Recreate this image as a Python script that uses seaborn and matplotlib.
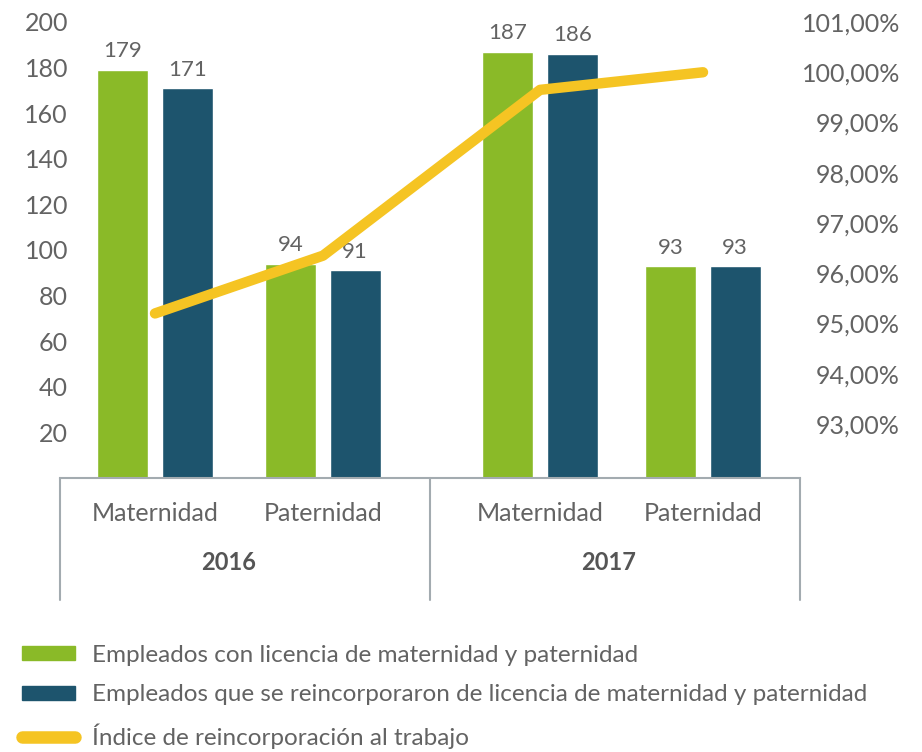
import matplotlib
matplotlib.use("Agg")
import matplotlib.pyplot as plt
import seaborn as sns
import pandas as pd
from matplotlib.lines import Line2D
from matplotlib.patches import Patch

# data
categorias = ["Maternidad", "Paternidad", "Maternidad", "Paternidad"]
anios = ["2016", "2017"]
posiciones = [0, 1, 2.292, 3.262]
con_licencia = [179, 94, 187, 93]
reincorporados = [171, 91, 186, 93]
indice = [95.2, 96.35, 99.65, 100.0]
ticks_izq = [20, 40, 60, 80, 100, 120, 140, 160, 180, 200]
ticks_der = [93, 94, 95, 96, 97, 98, 99, 100, 101]
series = ["Empleados con licencia de maternidad y paternidad",
          "Empleados que se reincorporaron de licencia de maternidad y paternidad",
          "Índice de reincorporación al trabajo"]

verde = "#8aba28"
azul = "#1d546d"
amarillo = "#f5c423"
texto = "#636363"
gris = "#a3abb0"

sns.set_theme(style="white")
plt.rcParams["font.family"] = ["Lato", "DejaVu Sans"]

df = pd.DataFrame({
    "pos": posiciones * 2,
    "valor": con_licencia + reincorporados,
    "serie": [series[0]] * 4 + [series[1]] * 4,
})

W, H = 922, 752
fig = plt.figure(figsize=(W / 100, H / 100), dpi=100)
ax = fig.add_axes([60 / W, 1 - 478 / H, 740 / W, 478 / H])

sns.barplot(data=df, x="pos", y="valor", hue="serie", hue_order=series[:2],
            palette=[verde, azul], native_scale=True, width=0.79, gap=0.21,
            saturation=1, legend=False, ax=ax)

for c in ax.containers:
    ax.bar_label(c, fmt="%d", padding=6, fontsize=16, color=texto)

ax.set_xlim((60 - 155) / 168, (800 - 155) / 168)
ax.set_ylim(0, 209.6)
ax.set_yticks(ticks_izq)
ax.set_yticklabels([str(t) for t in ticks_izq])
ax.tick_params(axis="y", length=0, pad=-5.8, labelsize=18, labelcolor=texto)
ax.set_xticks(posiciones)
ax.set_xticklabels(categorias)
ax.tick_params(axis="x", length=0, pad=17, labelsize=18, labelcolor=texto)
ax.set_xlabel("")
ax.set_ylabel("")
for s in ["left", "right", "top"]:
    ax.spines[s].set_visible(False)
ax.spines["bottom"].set_color(gris)
ax.spines["bottom"].set_linewidth(1.5)

# year labels under each group
trans = ax.get_xaxis_transform()
ax.text((posiciones[0] + posiciones[1]) / 2 - 0.06, -85 / 478, anios[0], transform=trans,
        ha="center", va="center", fontsize=17, fontweight="bold", color="#555555")
ax.text((posiciones[2] + posiciones[3]) / 2 - 0.08, -85 / 478, anios[1], transform=trans,
        ha="center", va="center", fontsize=17, fontweight="bold", color="#555555")

# group box lines
for xp in [60, 430, 800]:
    fig.add_artist(Line2D([xp / W, xp / W], [1 - 478 / H, 1 - 600 / H],
                          transform=fig.transFigure, color=gris, lw=1.5))

# right axis with the index line
ax2 = ax.twinx()
sns.lineplot(x=posiciones, y=indice, ax=ax2, color=amarillo, linewidth=7.5,
             solid_capstyle="round", solid_joinstyle="round")
ax2.set_ylim(91.925, 101.438)
ax2.set_yticks(ticks_der)
ax2.set_yticklabels([f"{t},00%" for t in ticks_der])
ax2.tick_params(axis="y", length=0, pad=72, labelsize=18, labelcolor=texto)
for lab in ax2.get_yticklabels():
    lab.set_horizontalalignment("right")
for s in ["left", "right", "top", "bottom"]:
    ax2.spines[s].set_visible(False)

handles = [Patch(color=verde), Patch(color=azul),
           Line2D([0], [0], color=amarillo, lw=9, solid_capstyle="round")]
leg = fig.legend(handles, series, loc="upper left", bbox_to_anchor=(22 / W, 1 - 645 / H),
                 frameon=False, fontsize=17.5, handlelength=2.2, handleheight=0.5,
                 handletextpad=0.7, labelspacing=0.75, borderpad=0, borderaxespad=0)
for t in leg.get_texts():
    t.set_color(texto)

fig.savefig("out.png", dpi=100)
